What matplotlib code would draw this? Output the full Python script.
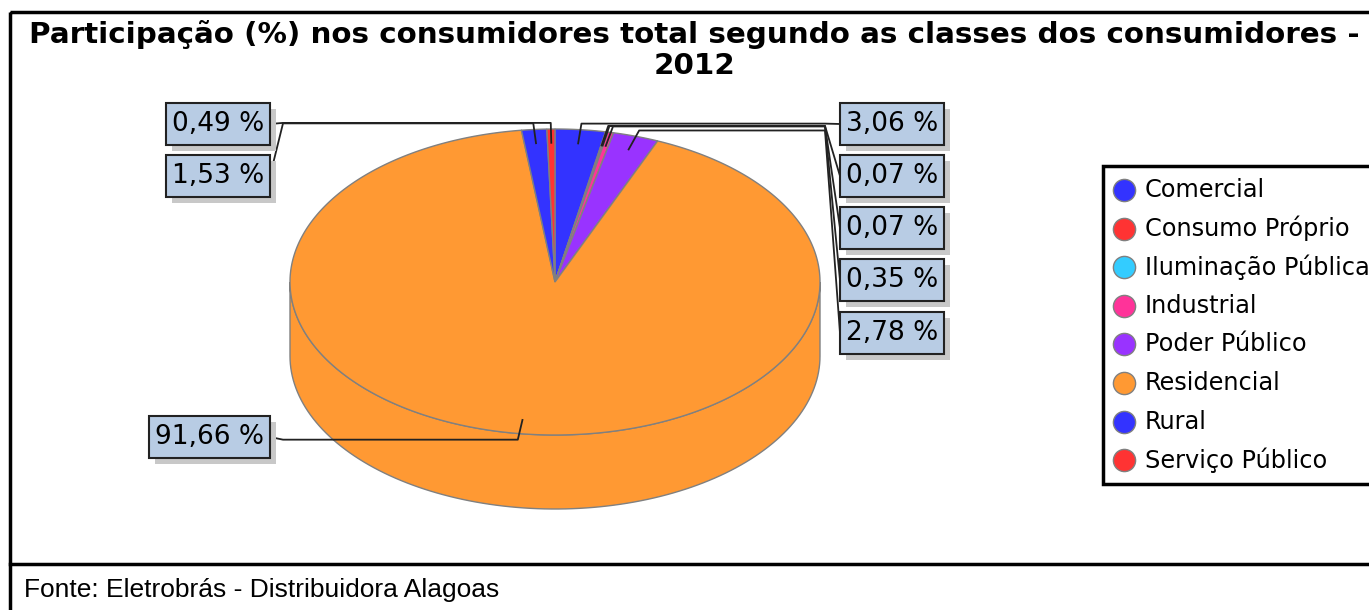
import numpy as np
import matplotlib
matplotlib.use("Agg")
import matplotlib.pyplot as plt
from matplotlib.patches import Polygon, Rectangle

# dados
categorias = ["Comercial", "Consumo Próprio", "Iluminação Pública", "Industrial",
              "Poder Público", "Residencial", "Rural", "Serviço Público"]
participacao = [3.06, 0.07, 0.07, 0.35, 2.78, 91.66, 1.53, 0.49]
cores = ["#3333ff", "#ff3333", "#33ccff", "#ff3399",
         "#9933ff", "#ff9933", "#3333ff", "#ff3333"]

titulo = "Participação (%) nos consumidores total segundo as classes dos consumidores -\n2012"
fonte = "Fonte: Eletrobrás - Distribuidora Alagoas"

# geometria (pixels)
cx, cy, rx, ry, prof = 555, 282, 265, 153, 74
# lado e altura de cada rótulo (layout)
pos_rotulo = [("R", 124), ("R", 176), ("R", 228), ("R", 280), ("R", 333),
              ("L", 437), ("L", 176), ("L", 124)]

fig = plt.figure(figsize=(13.69, 6.10), dpi=100)
ax = fig.add_axes([0, 0, 1, 1])
ax.set_xlim(0, 1369)
ax.set_ylim(610, 0)
ax.axis("off")
renderer = fig.canvas.get_renderer()


def ponto(t, s=1.0, dy=0.0):
    t = np.radians(t)
    return cx + s * rx * np.cos(t), cy - s * ry * np.sin(t) + dy


total = sum(participacao)
angs = []
a = 90.0
for v in participacao:
    b = a - v / total * 360.0
    angs.append((a, b))
    a = b

# laterais (parte frontal)
for (a0, a1), cor in zip(angs, cores):
    for k in range(-2, 2):
        lo, hi = max(a1, -180 + 360 * k), min(a0, 360 * k)
        if hi <= lo:
            continue
        t = np.linspace(lo, hi, 120)
        top = [ponto(x) for x in t]
        bot = [ponto(x, dy=prof) for x in t[::-1]]
        ax.add_patch(Polygon(top + bot, closed=True, fc=cor, ec="#808080", lw=1, zorder=1))

# topo
for (a0, a1), cor in zip(angs, cores):
    t = np.linspace(a0, a1, max(3, int(abs(a0 - a1) * 2)))
    pts = [(cx, cy)] + [ponto(x) for x in t]
    ax.add_patch(Polygon(pts, closed=True, fc=cor, ec="#808080", lw=1, zorder=2))

# rótulos e ligações
fs = 19
pad, alt = 6, 42
for (a0, a1), v, (lado, ly) in zip(angs, participacao, pos_rotulo):
    m = (a0 + a1) / 2
    p0 = ponto(m, 0.91)
    p1 = ponto(m, 1.04)
    txt = f"{v:.2f} %".replace(".", ",")
    t = ax.text(0, ly, txt, fontsize=fs, ha="left", va="center", color="black", zorder=6)
    w = t.get_window_extent(renderer).width + 2 * pad
    if lado == "R":
        xs = [p0[0], p1[0], 825, 840]
        x0 = 840
    else:
        xs = [p0[0], p1[0], 283, 270]
        x0 = 270 - w
    t.set_x(x0 + pad)
    ys = [p0[1], p1[1], p1[1], ly]
    ax.plot(xs, ys, color="#222222", lw=1.3, zorder=3)
    ax.add_patch(Rectangle((x0 + 6, ly - alt / 2 + 6), w, alt, fc="#c8c8c8", ec="none", zorder=4))
    ax.add_patch(Rectangle((x0, ly - alt / 2), w, alt, fc="#b8cce4", ec="#222222", lw=1.5, zorder=5))

# título
ax.text(694, 50, titulo, fontsize=21.2, fontweight="bold", ha="center", va="center",
        linespacing=1.12, zorder=6)

# legenda
ax.add_patch(Rectangle((1103, 166), 400, 318, fc="white", ec="black", lw=2.5, zorder=6))
for i, (nome, cor) in enumerate(zip(categorias, cores)):
    y = 190 + i * 38.6
    ax.plot([1124], [y], marker="o", ms=16, mfc=cor, mec="#808080", mew=1, zorder=7)
    ax.text(1145, y, nome, fontsize=17.3, ha="left", va="center", zorder=7)

# moldura e fonte
ax.add_patch(Rectangle((10, 12), 1500, 700, fill=False, ec="black", lw=2.5, zorder=8))
ax.plot([10, 1400], [564, 564], color="black", lw=2.5, zorder=8)
ax.text(24, 590, fonte, fontsize=19, family="Liberation Sans", ha="left", va="center", zorder=8)

fig.savefig("out.png", dpi=100)
